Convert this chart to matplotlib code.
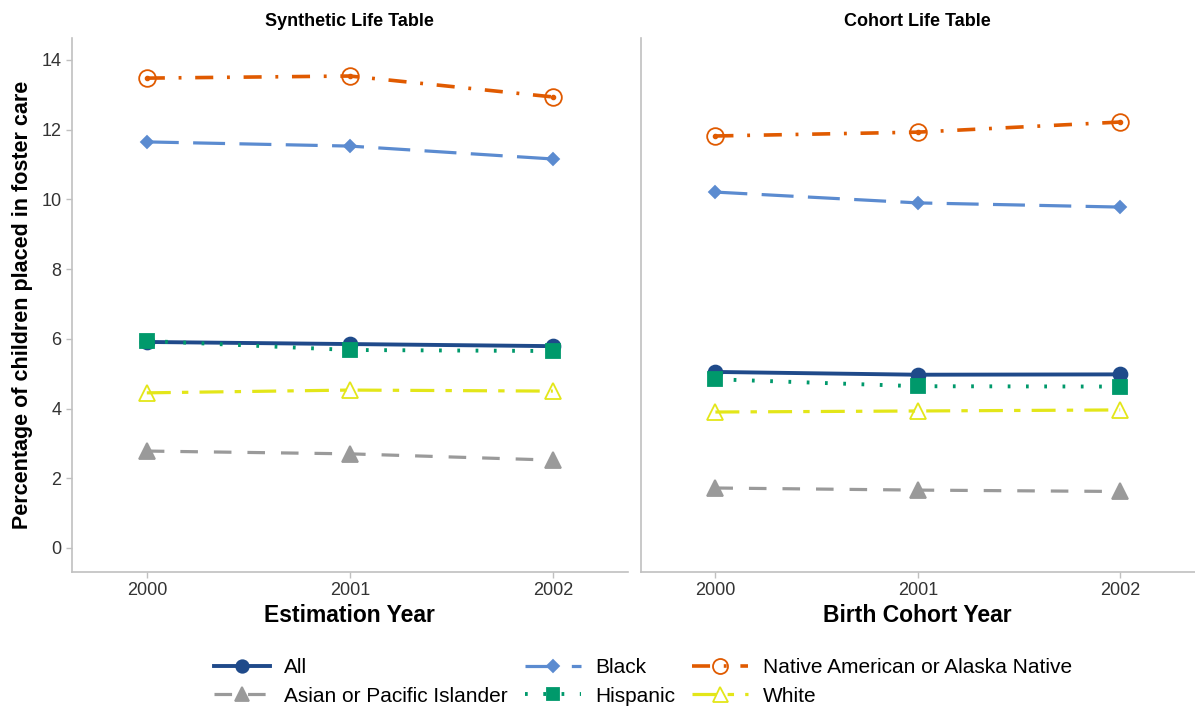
import matplotlib
matplotlib.use("Agg")
import matplotlib.pyplot as plt
from matplotlib.lines import Line2D

plt.rcParams["font.family"] = ["Liberation Sans", "DejaVu Sans"]

years = [2000, 2001, 2002]
groups = ["All", "Asian or Pacific Islander", "Black", "Hispanic",
          "Native American or Alaska Native", "White"]

# Synthetic life table (by estimation year)
synthetic = {
    "All": [5.91, 5.85, 5.79],
    "Asian or Pacific Islander": [2.78, 2.70, 2.52],
    "Black": [11.65, 11.53, 11.16],
    "Hispanic": [5.94, 5.68, 5.65],
    "Native American or Alaska Native": [13.48, 13.54, 12.94],
    "White": [4.45, 4.53, 4.50],
}

# Cohort life table (by birth cohort year)
cohort = {
    "All": [5.05, 4.97, 4.98],
    "Asian or Pacific Islander": [1.72, 1.66, 1.62],
    "Black": [10.21, 9.90, 9.78],
    "Hispanic": [4.84, 4.64, 4.63],
    "Native American or Alaska Native": [11.82, 11.93, 12.22],
    "White": [3.90, 3.93, 3.96],
}

styles = {
    "All": dict(color="#1f4a8a", ls="-", marker="o", mfc="#1f4a8a", ms=10, lw=2.8),
    "Asian or Pacific Islander": dict(color="#9a9a9a", ls=(0, (5.5, 5)), marker="^", mfc="#9a9a9a", ms=11, lw=2.3),
    "Black": dict(color="#5b8bd0", ls=(0, (10, 4.5)), marker="D", mfc="#5b8bd0", ms=6.5, lw=2.3),
    "Hispanic": dict(color="#00996b", ls=(0, (0.7, 4)), marker="s", mfc="#00996b", ms=10, lw=2.8),
    "Native American or Alaska Native": dict(color="#e05a00", ls=(0, (5, 3.8, 0.8, 3.8)), marker="o", mfc="none", ms=12, lw=2.6),
    "White": dict(color="#e3e619", ls=(0, (7.5, 3.5, 2, 3.5)), marker="^", mfc="none", ms=12, lw=2.3),
}

fig = plt.figure(figsize=(11.95, 7.11), dpi=100)
ax1 = fig.add_axes([0.060, 0.1955, 0.4655, 0.751])
ax2 = fig.add_axes([0.536, 0.1955, 0.464, 0.751])

grey = "#c0c0c0"
for ax, data, title, xlabel in [
    (ax1, synthetic, "Synthetic Life Table", "Estimation Year"),
    (ax2, cohort, "Cohort Life Table", "Birth Cohort Year"),
]:
    for g in groups:
        st = styles[g]
        ax.plot(years, data[g], color=st["color"], ls=st["ls"], lw=st["lw"],
                marker=st["marker"], ms=st["ms"], mfc=st["mfc"],
                mec=st["color"], mew=1.3, dash_capstyle="butt")
        if g == "Native American or Alaska Native":
            ax.plot(years, data[g], ls="none", marker="o", ms=3, color=st["color"])
    ax.set_xlim(1999.63, 2002.37)
    ax.set_ylim(-0.69, 14.63)
    ax.set_xticks(years)
    ax.set_xticklabels([str(y) for y in years])
    ax.set_yticks(range(0, 15, 2))
    for side in ["top", "right"]:
        ax.spines[side].set_visible(False)
    for side in ["left", "bottom"]:
        ax.spines[side].set_color(grey)
        ax.spines[side].set_linewidth(1.2)
    ax.tick_params(colors=grey, labelcolor="#333333", labelsize=13, length=4, width=1)
    ax.set_title(title, fontsize=13, fontweight="bold", pad=9)
    ax.set_xlabel(xlabel, fontsize=16.5, fontweight="bold", labelpad=3)

ax1.set_ylabel("Percentage of children placed in foster care", fontsize=15.5, fontweight="bold", labelpad=6)
ax2.tick_params(axis="y", labelleft=False, length=0)

handles = []
for g in groups:
    st = styles[g]
    handles.append(Line2D([], [], color=st["color"], ls=st["ls"], lw=st["lw"],
                          marker=st["marker"], ms=st["ms"] * 0.9, mfc=st["mfc"],
                          mec=st["color"], mew=1.3))
fig.legend(handles, groups, loc="center", bbox_to_anchor=(0.538, 0.041), ncol=3,
           frameon=False, fontsize=15, handlelength=2.7, columnspacing=0.8,
           handletextpad=0.7, labelspacing=0.45)

fig.savefig("out.png", dpi=100)
